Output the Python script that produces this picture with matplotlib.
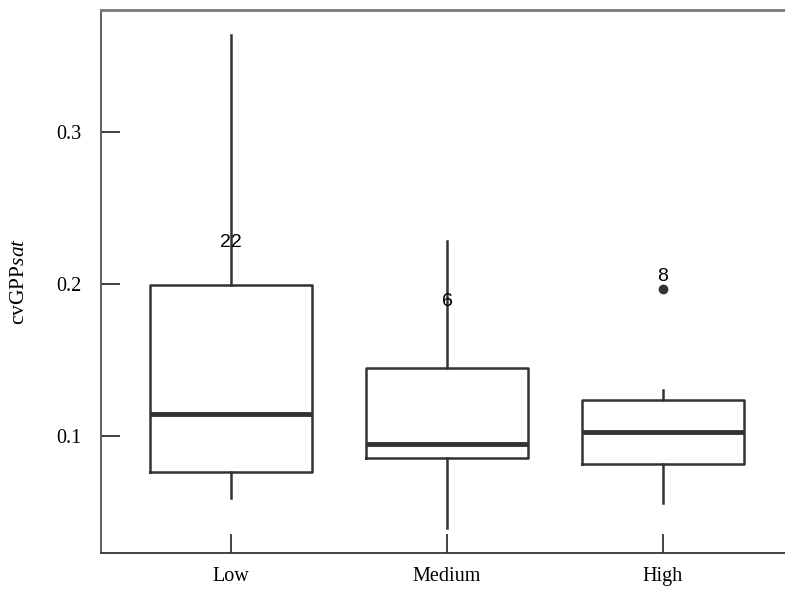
import matplotlib.pyplot as plt
import numpy as np

# values
groups = ["Low", "Medium", "High"]
q1 = [0.0763, 0.0855, 0.0816]
med = [0.1145, 0.0947, 0.1026]
q3 = [0.1993, 0.1447, 0.1237]
whis_lo = [0.0592, 0.0395, 0.0559]
whis_hi = [0.3638, 0.2283, 0.1303]
outliers = [[], [], [0.1967]]

# point labels (case numbers) and their heights
lab_text = ["22", "6", "8"]
lab_y = [0.2276, 0.1888, 0.2050]

ink = "#333333"

plt.rcParams["mathtext.fontset"] = "custom"
plt.rcParams["mathtext.rm"] = "Liberation Serif"
plt.rcParams["mathtext.it"] = "Liberation Serif:italic"

fig = plt.figure(figsize=(7.85, 5.89), dpi=100)
ax = fig.add_axes([0.1287, 0.0611, 0.8713, 0.9219])

stats = []
for i in range(len(groups)):
    stats.append({"med": med[i], "q1": q1[i], "q3": q3[i],
                  "whislo": whis_lo[i], "whishi": whis_hi[i],
                  "fliers": outliers[i]})

pos = np.arange(len(groups))
ax.bxp(stats, positions=pos, widths=0.75, showcaps=False,
       boxprops=dict(color=ink, linewidth=1.8),
       whiskerprops=dict(color=ink, linewidth=1.8),
       medianprops=dict(color=ink, linewidth=3.5),
       flierprops=dict(marker="o", markerfacecolor=ink, markeredgecolor=ink,
                       markersize=6))

for i in range(len(groups)):
    ax.text(pos[i], lab_y[i], lab_text[i], ha="center", va="center",
            fontsize=14, family="Liberation Sans", color="black")

ax.set_xlim(-0.602, 2.565)
ax.set_ylim(0.0230, 0.3803)
ax.set_xticks(pos)
ax.set_xticklabels(groups)
ax.set_yticks([0.1, 0.2, 0.3])
ax.set_yticklabels(["0.1", "0.2", "0.3"])

for lab in ax.get_xticklabels() + ax.get_yticklabels():
    lab.set_family("Liberation Serif")
    lab.set_fontsize(14.5)

ax.tick_params(direction="in", length=14, width=1.3, color=ink, pad=14)
ax.tick_params(axis="x", pad=10)

ax.spines["right"].set_visible(False)
ax.spines["top"].set_color("#777777")
ax.spines["top"].set_linewidth(2)
ax.spines["left"].set_color("#555555")
ax.spines["left"].set_linewidth(1.3)
ax.spines["bottom"].set_color(ink)
ax.spines["bottom"].set_linewidth(1.3)

ax.set_ylabel(r"cvGPP$\mathit{sat}$", family="Liberation Serif", fontsize=15.5,
              labelpad=20)

fig.savefig("out.png", dpi=100)
